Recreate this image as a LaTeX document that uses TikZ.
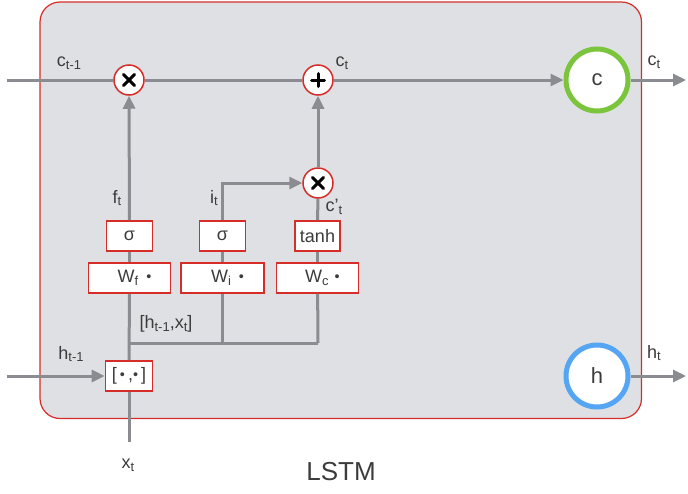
\documentclass[tikz,border=0pt]{standalone}
\usepackage{fontspec}
\setmainfont{Liberation Sans}
\usetikzlibrary{arrows.meta}
\definecolor{panel}{RGB}{223,224,227}
\definecolor{wire}{RGB}{138,140,145}
\definecolor{redline}{RGB}{214,45,40}
\definecolor{greenc}{RGB}{122,197,60}
\definecolor{bluec}{RGB}{85,165,245}
\definecolor{txt}{RGB}{60,60,60}
\newcommand\lsub[1]{\raisebox{-0.3ex}{\scalebox{0.72}{#1}}}
\newcommand\bdot{\raisebox{0.15ex}{\scalebox{0.8}{•}}}
\tikzset{
  wirel/.style={draw=wire, line width=3pt},
  arr/.style={wirel, -{Triangle[length=13pt,width=12pt]}},
  opnode/.style={circle, draw=redline, line width=1.5pt, fill=white, minimum size=30pt, inner sep=0pt},
  bignode/.style={circle, line width=5pt, fill=white, minimum size=62pt, inner sep=0pt, text=txt, font=\fontsize{22}{24}\selectfont},
  fbox/.style={draw=redline, line width=1.6pt, fill=white, minimum height=30pt, inner sep=0pt, text=txt, font=\fontsize{18}{20}\selectfont},
  lbl/.style={text=txt, font=\fontsize{18}{20}\selectfont, inner sep=0pt},
  crossl/.style={line width=3pt, black, line cap=round}
}
\begin{document}
\begin{tikzpicture}[x=1pt,y=-1pt]
\useasboundingbox (0,0) rectangle (688,493);
\draw[redline, line width=1.2pt, fill=panel, rounded corners=20pt] (40,2) rectangle (641.5,418.5);

% nodes
\node[opnode] (m1) at (129,80) {};
\node[opnode] (p1) at (318,80) {};
\node[opnode] (m2) at (318,183) {};
\node[bignode, draw=greenc] (c) at (597,80) {c};
\node[bignode, draw=bluec] (h) at (597,376) {h};
\node[fbox, minimum width=46pt] (sf) at (129.5,236) {σ};
\node[fbox, minimum width=46pt] (si) at (222.5,236) {σ};
\node[fbox, minimum width=45pt] (th) at (317.5,236) {tanh};
\node[fbox, minimum width=82pt] (wf) at (129.5,278) {\hspace{10pt}W\lsub{f}\hspace{8pt}\bdot};
\node[fbox, minimum width=83pt] (wi) at (222.5,278) {\hspace{10pt}W\lsub{i}\hspace{8pt}\bdot};
\node[fbox, minimum width=82pt] (wc) at (317.5,278) {\hspace{10pt}W\lsub{c}\hspace{6pt}\bdot};
\node[fbox, minimum width=47pt] (cat) at (129,376) {[\,\bdot\,,\bdot\,]};

% crosses and plus
\draw[crossl] ([shift={(-5.5,-5.5)}]m1.center) -- ([shift={(5.5,5.5)}]m1.center);
\draw[crossl] ([shift={(-5.5,5.5)}]m1.center) -- ([shift={(5.5,-5.5)}]m1.center);
\draw[crossl] ([shift={(-5.5,-5.5)}]m2.center) -- ([shift={(5.5,5.5)}]m2.center);
\draw[crossl] ([shift={(-5.5,5.5)}]m2.center) -- ([shift={(5.5,-5.5)}]m2.center);
\draw[crossl] ([shift={(-6.5,0)}]p1.center) -- ([shift={(6.5,0)}]p1.center);
\draw[crossl] ([shift={(0,-6.5)}]p1.center) -- ([shift={(0,6.5)}]p1.center);

% free ends
\coordinate (cin) at (7,80);
\coordinate (cout) at (686,80);
\coordinate (hin) at (7,376);
\coordinate (hout) at (686,376);
\coordinate (xin) at (129,442);
\coordinate (j1) at (129,343);
\coordinate (j2) at (222.5,343);
\coordinate (j3) at (318,343);

% connectors
\draw[wirel] (cin) -- (m1);
\draw[wirel] (m1) -- (p1);
\draw[arr] (p1) -- (c);
\draw[arr] (c) -- (cout);
\draw[arr] (hin) -- (cat);
\draw[arr] (h) -- (hout);
\draw[wirel] (xin) -- (cat);
\draw[wirel] (cat) -- (wf);
\draw[wirel] (wf) -- (sf);
\draw[arr] (sf) -- (m1);
\draw[wirel] (j1) -- (j3);
\draw[wirel] (j2) -- (wi);
\draw[wirel] (wi) -- (si);
\draw[arr] (si.north) |- (m2);
\draw[wirel] (j3) -- (wc);
\draw[wirel] (wc) -- (th);
\draw[wirel] (th) -- (m2);
\draw[arr] (m2) -- (p1);

% labels
\node[lbl] (lct1) at (69,63) {c\lsub{t-1}};
\node[lbl] (lct) at (342,63) {c\lsub{t}};
\node[lbl] (lcto) at (654,62) {c\lsub{t}};
\node[lbl] (lft) at (117,198) {f\lsub{t}};
\node[lbl] (lit) at (214,198) {i\lsub{t}};
\node[lbl] (lcp) at (334,207) {c'\lsub{t}};
\node[lbl] (lhx) at (166,324) {[h\lsub{t-1},x\lsub{t}]};
\node[lbl] (lht1) at (71,354) {h\lsub{t-1}};
\node[lbl] (lht) at (654,353) {h\lsub{t}};
\node[lbl] (lxt) at (128,465) {x\lsub{t}};
\node[text=txt, font=\fontsize{26}{28}\selectfont, inner sep=0pt] (lstm) at (341,472) {LSTM};
\end{tikzpicture}
\end{document}
